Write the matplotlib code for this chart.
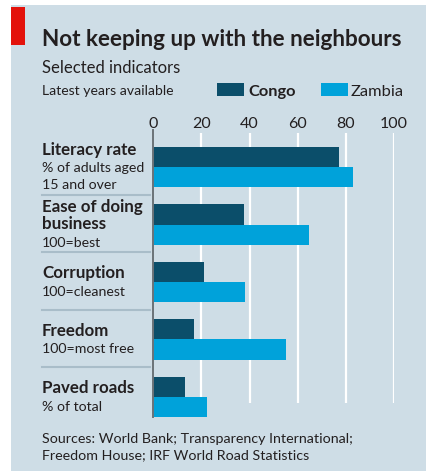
import matplotlib.pyplot as plt
from matplotlib.lines import Line2D
from matplotlib.patches import Rectangle
import matplotlib.transforms as mtransforms

# data
categories = ["Literacy rate", "Ease of doing\nbusiness", "Corruption", "Freedom", "Paved roads"]
subtitles = ["% of adults aged\n15 and over", "100=best", "100=cleanest", "100=most free", "% of total"]
congo = [77, 37.5, 21, 17, 13]
zambia = [83, 64.5, 38, 55, 22.5]
ticks = [0, 20, 40, 60, 80, 100]

W, H = 426, 471
BG = "#cedde6"
DARK = "#0b4e6a"
LIGHT = "#00a2da"
TXT = "#231f20"

plt.rcParams['font.family'] = ['Lato', 'DejaVu Sans']

fig = plt.figure(figsize=(W / 100, H / 100), dpi=100)
fig.patch.set_facecolor("white")


# pixel -> figure fraction
def fx(x):
    return x / W


def fy(y):
    return 1 - y / H


# background panel and red tag
fig.add_artist(Rectangle((fx(11), 0), 1 - fx(11), fy(5), transform=fig.transFigure,
                         facecolor=BG, edgecolor="none", zorder=0))
fig.add_artist(Rectangle((fx(11), fy(45)), fx(25) - fx(11), fy(7) - fy(45),
                         transform=fig.transFigure, facecolor="#e3120b", edgecolor="none", zorder=1))

# titles
fig.text(fx(42), fy(46), "Not keeping up with the neighbours", fontsize=16.2, fontweight="bold",
         color=TXT, va="baseline")
fig.text(fx(42), fy(73), "Selected indicators", fontsize=12, color=TXT, va="baseline")
fig.text(fx(42), fy(95), "Latest years available", fontsize=10.1, color=TXT, va="baseline")

# legend
fig.add_artist(Rectangle((fx(217), fy(96)), fx(27), 13 / H, transform=fig.transFigure,
                         facecolor=DARK, edgecolor="none"))
fig.text(fx(248), fy(96), "Congo", fontsize=11.8, fontweight="bold", color=TXT, va="baseline")
fig.add_artist(Rectangle((fx(321), fy(96)), fx(27), 13 / H, transform=fig.transFigure,
                         facecolor=LIGHT, edgecolor="none"))
fig.text(fx(351), fy(96), "Zambia", fontsize=11.8, color=TXT, va="baseline")

# bar axes
ax = fig.add_axes([fx(153.3), fy(417), fx(394) - fx(153.3), fy(130) - fy(417)])
ax.patch.set_alpha(0)
pos = list(range(len(categories)))
h = 0.35
ax.barh([p - h / 2 for p in pos], congo, height=h, color=DARK, zorder=3)
ax.barh([p + h / 2 for p in pos], zambia, height=h, color=LIGHT, zorder=3)
ax.set_xlim(0, 100)
ax.set_ylim(4.35, -0.645)
ax.vlines(ticks[1:], -0.59, 4.10, color="white", lw=1.6, zorder=1)

for s in ["top", "right", "bottom"]:
    ax.spines[s].set_visible(False)
ax.spines["left"].set_color("#6b7378")
ax.spines["left"].set_linewidth(1.4)
ax.spines["left"].set_zorder(4)
ax.set_yticks([])
ax.set_xticks(ticks)
ax.xaxis.set_ticks_position("top")
ax.tick_params(axis="x", length=0, pad=-1, labelsize=11.5, labelcolor=TXT)

# separators between groups
tr = mtransforms.blended_transform_factory(fig.transFigure, ax.transData)
for p in pos[:-1]:
    fig.add_artist(Line2D([fx(42), fx(150)], [p + 0.48, p + 0.48], transform=tr,
                          color="#a9bdc9", lw=1.5))

# category labels, one line at a time (baselines, in units of group pitch)
PITCH = 57.5
for p, cat, sub in zip(pos, categories, subtitles):
    bold_lines = cat.split("\n")
    sub_lines = sub.split("\n")
    n = len(bold_lines) + len(sub_lines)
    y = -12.5 if n == 3 else -3.5
    for line in bold_lines:
        fig.text(fx(42), p + y / PITCH, line, transform=tr, fontsize=12.2, fontweight="bold",
                 color=TXT, va="baseline")
        y += 17.3
    for line in sub_lines:
        fig.text(fx(42), p + y / PITCH, line, transform=tr, fontsize=10.2,
                 color=TXT, va="baseline")
        y += 16.7

# sources
fig.text(fx(42), fy(443), "Sources: World Bank; Transparency International;", fontsize=10.3,
         color=TXT, va="baseline")
fig.text(fx(42), fy(459), "Freedom House; IRF World Road Statistics", fontsize=10.3,
         color=TXT, va="baseline")

fig.savefig("out.png", dpi=100, facecolor=fig.get_facecolor())
